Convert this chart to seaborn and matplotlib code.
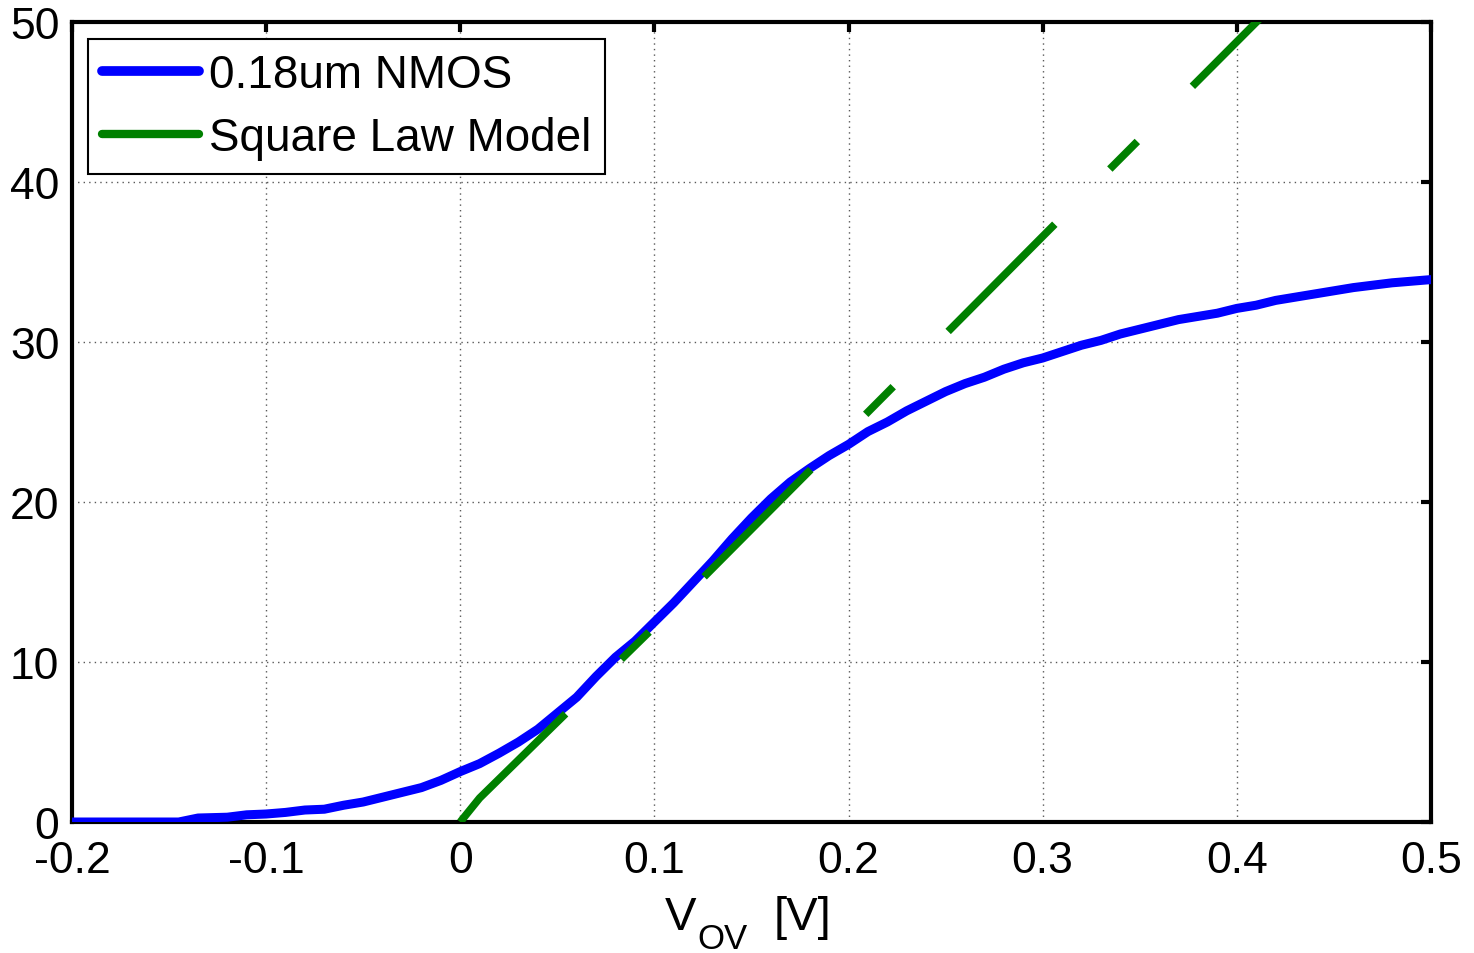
import numpy as np
import pandas as pd
import matplotlib
matplotlib.use('Agg')
import matplotlib.pyplot as plt
import seaborn as sns
from matplotlib.lines import Line2D

# measured curve (0.18um NMOS)
vov = [-0.2, -0.145, -0.135, -0.12, -0.11, -0.1, -0.09, -0.08, -0.07, -0.06,
       -0.05, -0.04, -0.03, -0.02, -0.01, 0.0, 0.01, 0.02, 0.03, 0.04,
       0.05, 0.06, 0.07, 0.08, 0.09, 0.10, 0.11, 0.12, 0.13, 0.14,
       0.15, 0.16, 0.17, 0.18, 0.19, 0.20, 0.21, 0.22, 0.23, 0.24,
       0.25, 0.26, 0.27, 0.28, 0.29, 0.30, 0.31, 0.32, 0.33, 0.34,
       0.35, 0.36, 0.37, 0.38, 0.39, 0.40, 0.41, 0.42, 0.43, 0.44,
       0.45, 0.46, 0.47, 0.48, 0.49, 0.50]
nmos = [0.0, 0.0, 0.25, 0.3, 0.45, 0.5, 0.6, 0.75, 0.8, 1.05,
        1.25, 1.55, 1.85, 2.15, 2.6, 3.15, 3.65, 4.3, 5.0, 5.8,
        6.8, 7.8, 9.1, 10.3, 11.3, 12.5, 13.7, 15.0, 16.3, 17.7,
        19.0, 20.2, 21.25, 22.1, 22.9, 23.6, 24.4, 25.0, 25.7, 26.3,
        26.9, 27.4, 27.8, 28.3, 28.7, 29.0, 29.4, 29.8, 30.1, 30.5,
        30.8, 31.1, 31.4, 31.6, 31.8, 32.1, 32.3, 32.6, 32.8, 33.0,
        33.2, 33.4, 33.55, 33.7, 33.8, 33.9]

# square law model
vov_sq = [0.0, 0.01, 0.1, 0.2, 0.3, 0.42]
sq_law = [0.0, 1.5, 12.2, 24.4, 36.6, 51.2]

labels = ['0.18um NMOS', 'Square Law Model']

sns.set_style('white')
plt.rcParams['font.family'] = ['Liberation Sans', 'DejaVu Sans']

fig = plt.figure(figsize=(14.74, 9.54), dpi=100)
ax = fig.add_axes([0.0488, 0.1373, 0.922, 0.8386])

sns.lineplot(x=vov, y=nmos, color='#0000ff', lw=6.5, ax=ax, zorder=3)
sns.lineplot(x=vov_sq, y=sq_law, color='#008000', lw=5.5, ax=ax, zorder=4,
             linestyle=(0, (19.8, 10.2, 5.1, 10.2)), solid_capstyle='butt')

ax.set_xlim(-0.2, 0.5)
ax.set_ylim(0, 50)
ax.set_xticks([-0.2, -0.1, 0, 0.1, 0.2, 0.3, 0.4, 0.5])
ax.set_xticklabels(['-0.2', '-0.1', '0', '0.1', '0.2', '0.3', '0.4', '0.5'])
ax.set_yticks([0, 10, 20, 30, 40, 50])

ax.grid(True, linestyle=(0, (1, 3)), color='0.35', lw=1.0)
for s in ax.spines.values():
    s.set_visible(True)
    s.set_color('black')
    s.set_linewidth(3)
ax.tick_params(direction='in', length=7, width=3, colors='black',
               top=True, right=True, labelsize=32)
ax.tick_params(axis='x', pad=13)
ax.tick_params(axis='y', pad=9)

# x label: V with a dropped subscript, like the original
ax.set_xlabel('')
fig.text(665 / 1474, 1 - 930 / 954, 'V', fontsize=34, color='black', va='baseline', ha='left')
fig.text(697 / 1474, 1 - 949 / 954, 'OV', fontsize=25, color='black', va='baseline', ha='left')
fig.text(774 / 1474, 1 - 930 / 954, '[V]', fontsize=34, color='black', va='baseline', ha='left')

handles = [Line2D([], [], color='#0000ff', lw=7),
           Line2D([], [], color='#008000', lw=6)]
leg = ax.legend(handles, labels, loc='upper left', bbox_to_anchor=(0.0118, 0.979),
                borderaxespad=0, fontsize=33, frameon=True, fancybox=False,
                handlelength=2.12, handletextpad=0.22, borderpad=0.3,
                labelspacing=0.42)
leg.get_frame().set_edgecolor('black')
leg.get_frame().set_linewidth(1.5)
leg.get_frame().set_alpha(1)
for t in leg.get_texts():
    t.set_color('black')

fig.savefig('out.png', dpi=100)
